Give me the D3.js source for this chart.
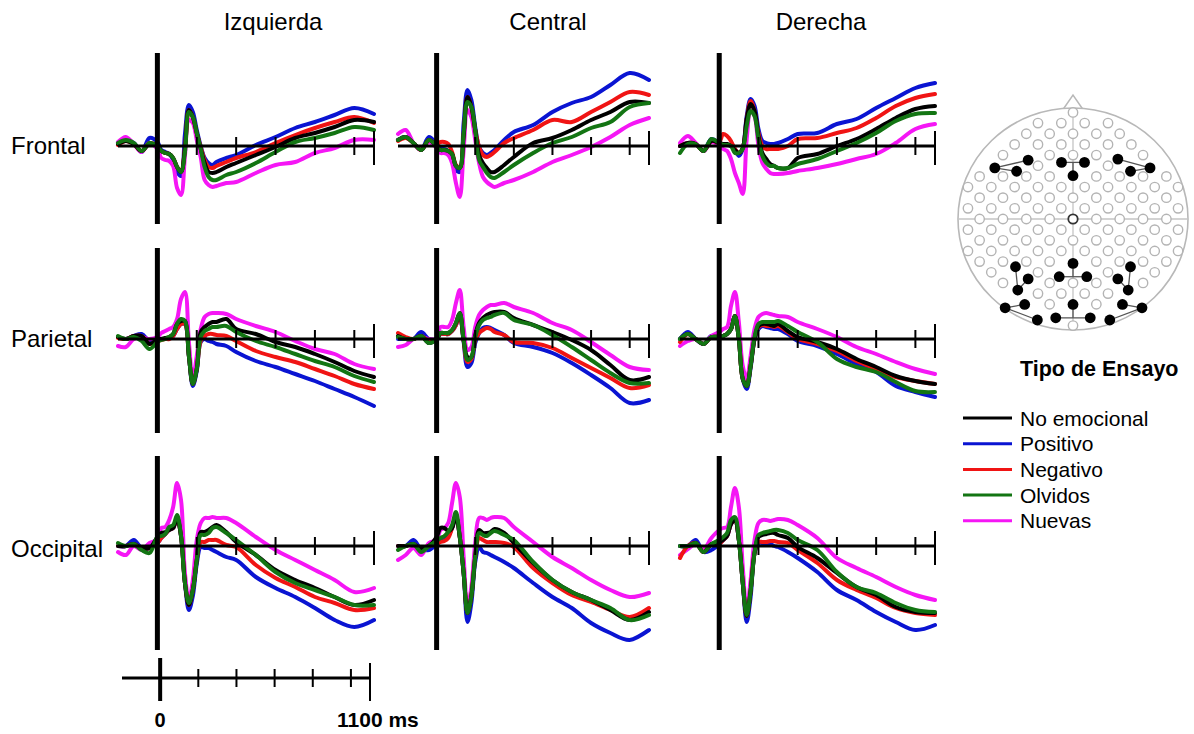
<!DOCTYPE html>
<html><head><meta charset="utf-8">
<script src="https://cdn.jsdelivr.net/npm/d3@7"></script>
<style>body{margin:0;background:#fff;} svg{display:block;font-family:"Liberation Sans",Arial,sans-serif;}</style>
</head><body><svg id="c" width="1194" height="734"></svg>
<script>
// time samples (ms)
const times = [-200,-160,-120,-80,-40,0,20,40,60,80,100,120,140,160,180,200,220,240,260,280,300,350,400,500,600,700,800,900,1000,1100];
const columns = ["Izquierda","Central","Derecha"];
const rowLabels = ["Frontal","Parietal","Occipital"];
const seriesNames = ["No emocional","Positivo","Negativo","Olvidos","Nuevas"];
const seriesColors = ["#000000","#0a14d2","#f01414","#137513","#f516f5"];
const tickTimes = [200,400,600,800,1000];
const scaleLabels = ["0","1100 ms"];
const legendTitle = "Tipo de Ensayo";

// amplitude (arbitrary µV units), series order: No emocional, Positivo, Negativo, Olvidos, Nuevas
const frontalIzq = [
 [0.2,0.5,0.2,-0.5,0.2, 0,-0.5,-0.7,-0.8,-1.2, -2.1,-2.6,-0.3,3.6,2.9, 1.3,-0.3,-1.7,-2.6,-2.7, -2.6,-2.1,-1.7,-0.9,-0.1, 0.8,1.3,1.9,2.6,2.4],
 [0.3,0.6,0.3,-0.6,0.8, 0.4,-0.4,-0.6,-0.8,-1.4, -2.6,-3.0,1.2,4.1,3.4, 1.6,0,-1.2,-1.7,-1.9, -1.6,-1.2,-0.9,0.1,0.9, 1.8,2.4,3.1,3.8,3.2],
 [0.1,0.5,0.2,-0.5,0.3, 0,-0.5,-0.7,-0.8,-1.2, -2.1,-2.5,-0.2,3.6,2.9, 1.3,-0.1,-1.4,-2.1,-2.2, -2.0,-1.6,-1.2,-0.6,0.3, 1.1,1.8,2.4,2.9,2.3],
 [0.3,0.6,0.3,-0.5,0.3, 0,-0.5,-0.7,-0.8,-1.2, -2.1,-2.6,-0.6,3.4,2.9, 1.3,-0.3,-2.1,-3.1,-3.4, -3.4,-2.9,-2.6,-1.7,-0.6, 0.4,0.8,1.3,1.9,1.6],
 [0.4,0.9,0.2,-0.6,0.3, -0.3,-1.2,-1.4,-1.5,-2.0, -4.2,-4.9,-1.0,2.6,2.3, 0.6,-1.1,-3.4,-3.9,-4.1, -4.0,-3.7,-3.6,-2.7,-1.9, -1.6,-0.7,-0.2,0.6,0.6]
];
const frontalCen = [
 [0.6,0.9,0.3,-0.4,0.6, 0,-0.4,-0.4,-0.5,-0.8, -2.0,-2.2,1.0,4.9,3.9, 1.6,-0.9,-1.7,-2.2,-2.6, -2.6,-1.9,-1.1,0.3,0.8, 1.6,2.6,3.4,4.4,4.3],
 [0.6,0.9,0.3,-0.4,0.9, 0.2,-0.2,-0.3,-0.5,-1.1, -2.4,-2.6,2.3,5.6,4.6, 1.9,-0.1,-0.7,-0.9,-0.7, -0.4,0.6,1.4,2.1,3.4, 4.3,4.9,6.1,7.3,6.6],
 [0.5,0.8,0.3,-0.4,0.6, 0.2,0.4,0.4,0.2,-0.6, -1.9,-2.2,1.2,4.9,3.9, 1.6,-0.1,-0.9,-1.1,-0.9, -0.6,0.3,0.8,1.6,2.6, 2.4,3.4,4.4,5.4,5.1],
 [0.6,0.9,0.3,-0.4,0.6, 0,-0.4,-0.4,-0.5,-0.8, -2.0,-2.2,1.3,4.4,3.9, 1.6,-1.4,-2.1,-2.7,-3.1, -3.2,-2.6,-1.9,-0.7,0.3, 0.9,1.8,2.4,3.9,4.3],
 [1.2,1.6,0.3,-0.4,0.4, -0.2,-0.7,-0.7,-0.9,-1.7, -3.7,-5.1,-0.4,3.6,2.9, 0.6,-1.7,-3.1,-3.6,-3.9, -4.1,-3.7,-3.4,-2.6,-1.6, -0.9,-0.1,0.9,2.1,2.8]
];
const frontalDer = [
 [0,0.3,0.2,-0.5,0.5, 0.3,0.2,0.2,0,-0.4, -0.7,-0.2,2.7,4.2,3.5, 1.0,-0.7,-1.3,-1.8,-2.0, -2.2,-2.2,-1.2,-0.8,0, 0.7,1.7,2.8,3.7,4.0],
 [0,0.3,0.2,-0.5,0.7, 0.3,0.1,0.1,0,-0.3, -1.0,-0.3,3.0,4.7,4.0, 1.7,0.5,0.3,0.2,0.2, 0.3,0.7,1.2,1.3,2.2, 2.7,3.8,4.8,5.8,6.3],
 [0,0.3,0.2,-0.5,0.5, 0.4,1.2,1.0,0.5,-0.3, -0.7,-0.2,2.7,4.5,3.5, 1.3,0,-0.3,-0.3,-0.3, -0.3,0,0.7,0.8,1.3, 1.8,2.8,4.0,4.8,5.2],
 [-0.7,0.2,0.2,-0.5,0.7, 0.3,0.1,0.1,0,-0.7, -0.7,-0.3,2.0,3.5,3.0, 0.7,-1.0,-1.7,-2.0,-2.0, -2.2,-2.2,-1.8,-1.3,-0.5, 0.3,1.3,2.5,3.2,3.3],
 [0.3,1.0,0.3,-0.5,0.4, 0.1,-0.3,-0.5,-1.3,-2.7, -3.7,-4.8,0.7,3.5,3.0, 0,-1.7,-2.3,-2.7,-2.8, -2.8,-2.7,-2.5,-2.2,-1.8, -1.3,-0.8,0.3,1.7,2.2]
];
const parietalIzq = [
 [0.2,0,0.3,0.3,-0.5, -0.1,0,0.1,0.2,0.5, 1.5,1.8,1.8,-1.7,-4.5, -3.0,0.7,1.2,1.5,1.7, 1.7,2.0,1.0,0.5,-0.3, -0.8,-1.5,-2.3,-3.2,-3.8],
 [0.2,0,0.3,0.5,-0.2, 0,0,0,0.1,0.3, 1.0,1.5,1.5,-1.7,-4.7, -3.2,-0.3,0,-0.2,-0.3, -0.5,-0.7,-1.3,-2.2,-2.8, -3.5,-4.2,-5.0,-5.8,-6.7],
 [0.1,0,0.3,0.3,-0.5, -0.2,-0.1,0,0,0.3, 1.0,1.5,1.5,-1.7,-4.5, -3.0,-0.2,0.3,0.5,0.5, 0.4,0.3,-0.2,-1.2,-1.8, -2.3,-3.0,-3.7,-4.5,-5.0],
 [0.3,0,0.2,-0.2,-1.0, -0.3,-0.1,0,0.2,0.5, 1.5,2.0,1.8,-1.7,-4.5, -3.0,0.2,0.8,1.0,1.2, 1.2,1.3,0.7,-0.2,-0.8, -1.5,-2.2,-2.8,-3.7,-4.3],
 [-0.7,-0.8,0,0.2,0, 0.2,0.6,0.8,1.0,1.2, 2.0,4.0,4.7,-0.3,-4.0, -1.7,1.0,2.2,2.5,2.6, 2.6,2.5,2.0,1.3,0.7, -0.2,-1.0,-1.5,-2.5,-3.0]
];
const parietalCen = [
 [0.3,0,0,0.3,-0.4, 0,0.6,0.6,0.6,0.9, 1.6,2.6,-0.1,-1.8,-1.8, 0.4,1.6,2.1,2.4,2.6, 2.7,2.7,2.1,1.4,0.7, -0.1,-1.1,-2.6,-4.1,-3.8],
 [0,0,0,0.7,0, 0,0.5,0.5,0.5,0.8, 1.4,2.4,-0.3,-2.8,-2.4, -0.4,0.6,1.1,1.2,1.1, 0.9,0.4,-0.4,-0.8,-1.4, -2.4,-3.6,-4.9,-6.4,-6.1],
 [0.6,0.2,0,0.3,-0.2, 0,0.5,0.5,0.5,0.8, 1.4,2.4,-0.2,-2.3,-2.0, -0.1,0.6,0.9,1.1,1.0, 0.7,0.4,-0.3,-0.4,-0.9, -1.9,-2.9,-3.9,-4.9,-4.6],
 [0.2,0,0,0.3,-0.4, 0,0.6,0.6,0.6,0.9, 1.6,2.6,-0.1,-2.1,-1.8, 0.2,1.4,1.9,2.1,2.2, 2.4,2.6,1.9,1.4,0.4, -0.8,-2.1,-3.4,-4.4,-4.4],
 [-0.8,-0.6,0,0.2,0, 0,1.2,1.2,1.2,1.9, 3.6,4.9,1.2,-1.1,-0.8, 1.2,2.4,2.9,3.2,3.4, 3.4,3.6,3.2,2.6,1.6, 0.9,-0.3,-1.6,-2.8,-3.1]
];
const parietalDer = [
 [0,0.5,0,-0.5,0.2, 0.2,0.3,0.5,1.0,2.3, 0,-4.0,-4.7,-2.7,0, 1.3,1.5,1.5,1.4,1.3, 1.5,0.8,0.2,-0.3,-1.0, -2.0,-2.8,-3.7,-4.2,-4.5],
 [0,0.7,0,-0.5,0.3, 0.2,0.3,0.5,1.0,2.3, 0,-4.0,-5.0,-2.9,0, 1.0,1.3,1.2,1.1,1.0, 1.0,0.5,-0.2,-0.7,-1.5, -2.5,-3.3,-4.7,-5.3,-5.8],
 [-0.3,0.5,0,-0.5,0.2, 0.2,0.3,0.5,1.0,2.3, 0,-4.0,-4.7,-2.7,0, 1.2,1.4,1.3,1.3,1.2, 1.3,0.7,0,-0.5,-1.2, -2.2,-3.0,-3.8,-4.2,-4.5],
 [0,0.5,0,-0.5,0.2, 0.2,0.3,0.5,1.0,2.3, 0,-4.0,-4.7,-2.7,0.2, 1.5,1.7,1.7,1.7,1.7, 1.8,1.3,0.7,-0.3,-2.0, -2.8,-3.3,-4.3,-5.2,-5.3],
 [-0.7,-0.2,0,-0.5,0.3, 0.7,1.0,1.2,3.3,4.7, 1.7,-2.7,-4.0,-1.7,1.0, 2.2,2.5,2.6,2.5,2.4, 2.3,2.2,1.7,1.0,0.2, -0.8,-1.5,-2.3,-3.0,-3.5]
];
const occipitalIzq = [
 [0,0,0.2,-0.2,-0.2, 0.9,1.3,1.4,1.6,1.8, 2.8,1.0,-3.7,-5.9,-4.4, -1.4,1.4,1.4,1.6,1.9, 2.1,1.4,0.4,-0.9,-2.4, -3.4,-4.2,-5.1,-5.9,-5.4],
 [0,0,0.6,-0.2,-0.2, 0.3,0.8,1.2,1.6,1.8, 2.8,1.0,-3.7,-6.4,-5.0, -1.8,-0.1,-0.2,-0.2,-0.4, -0.6,-1.1,-1.4,-3.1,-4.2, -5.1,-6.2,-7.4,-8.1,-7.4],
 [0,0,0.2,-0.2,-0.2, 0.3,0.8,1.2,1.6,1.8, 2.8,1.0,-3.7,-5.9,-4.4, -1.4,0.4,0.4,0.6,0.6, 0.6,0.1,-0.1,-1.9,-3.2, -4.1,-5.1,-5.7,-6.4,-6.2],
 [0.3,0,0.2,-0.4,-0.7, 0.9,1.0,1.2,1.9,2.1, 3.1,1.0,-3.7,-5.7,-4.4, -1.4,1.1,1.1,1.3,1.8, 1.9,1.3,0.6,-0.9,-2.6, -3.7,-4.4,-5.1,-5.9,-5.9],
 [-0.6,-0.9,0,-0.4,0.3, 0.6,1.8,1.9,2.6,3.9, 6.3,4.6,-2.7,-5.4,-3.4, 0.6,2.3,2.8,2.8,2.9, 2.8,2.8,2.3,0.9,-0.4, -1.4,-2.4,-3.4,-4.6,-4.2]
];
const occipitalCen = [
 [0,0,0.2,-0.3,0, 0.9,1.8,1.8,1.5,1.8, 3.0,0.9,-2.7,-6.7,-5.0, -1.1,1.6,1.3,1.3,1.4, 1.7,1.3,0.3,-1.7,-3.4, -4.6,-5.4,-6.4,-7.4,-6.6],
 [0,0,0.6,-0.3,-0.4, 0.2,0.5,0.6,1.0,1.8, 3.0,0.9,-2.7,-7.6,-5.7, -1.6,-0.1,-0.6,-0.7,-0.9, -1.1,-1.6,-2.2,-3.7,-5.1, -6.2,-7.7,-8.7,-9.4,-8.4],
 [0,0,0.2,-0.3,0, 0.2,0.4,0.5,0.8,1.8, 3.0,0.9,-2.7,-6.7,-5.0, -1.1,0.8,0.6,0.4,0.4, 0.4,0.3,-0.1,-2.2,-3.7, -4.9,-5.6,-6.4,-7.1,-6.2],
 [-0.4,0,0.2,-0.6,0, 0.5,0.8,1.0,1.4,2.1, 3.4,0.9,-2.7,-6.7,-5.0, -1.1,1.3,1.1,1.0,1.3, 1.5,1.1,0.6,-1.6,-3.4, -4.6,-5.4,-6.2,-7.4,-6.9],
 [-1.4,-0.9,-0.2,-0.9,0.3, 0.6,1.6,1.8,2.3,4.3, 6.3,4.9,-1.1,-6.1,-4.1, 0.3,2.8,2.8,2.6,2.8, 2.9,2.8,1.9,0.4,-1.1, -2.2,-3.4,-4.4,-5.1,-4.7]
];
const occipitalDer = [
 [0,0,0.3,-0.6,0.2, 0.4,0.6,1.0,2.2,2.6, 0.6,-3.7,-7.0,-4.5,-0.7, 0.9,1.1,1.2,1.3,1.3, 1.1,0.8,-0.1,-1.2,-2.7, -4.1,-4.9,-6.1,-6.6,-6.7],
 [0,0,0.6,-0.6,-0.4, 0.2,0.6,1.0,2.2,2.6, 0.6,-3.7,-7.6,-5.1,-0.7, 0.3,0.3,0.3,0.2,0, -0.1,-0.6,-1.2,-2.6,-4.4, -5.4,-6.6,-7.6,-8.4,-7.9],
 [-1.2,0,0.3,-0.6,0.2, 0.2,0.6,1.0,2.2,2.6, 0.6,-3.7,-7.0,-4.5,-0.7, 0.4,0.4,0.4,0.5,0.5, 0.4,0.3,-0.4,-1.7,-3.4, -4.4,-5.2,-6.2,-6.7,-6.9],
 [0,0,0.3,-0.6,0.2, 0.6,0.9,1.3,2.6,2.9, 0.6,-3.7,-6.9,-4.5,-0.7, 1.1,1.3,1.4,1.5,1.6, 1.6,1.3,0.6,-0.4,-2.6, -4.1,-4.7,-5.7,-6.4,-6.6],
 [-0.9,-0.3,0.2,-0.3,0.8, 1.6,1.8,1.9,3.9,5.8, 3.9,-2.1,-6.4,-3.4,0.6, 2.3,2.6,2.6,2.5,2.6, 2.7,2.6,2.1,0.8,-1.2, -2.2,-3.1,-4.1,-4.9,-5.4]
];

// electrode map: highlighted electrodes (normalized head coords) and their links
const activeElectrodes = [
 [-0.68,0.46],[-0.49,0.43],[-0.39,0.53],
 [-0.10,0.51],[0.10,0.51],[0,0.39],
 [0.39,0.54],[0.50,0.43],[0.67,0.46],
 [-0.50,-0.43],[-0.39,-0.54],[-0.48,-0.64],
 [-0.59,-0.80],[-0.42,-0.77],[-0.31,-0.91],
 [0,-0.40],[-0.12,-0.52],[0.12,-0.52],
 [0,-0.77],[-0.15,-0.89],[0.15,-0.89],
 [0.50,-0.43],[0.39,-0.54],[0.48,-0.64],
 [0.43,-0.77],[0.60,-0.80],[0.32,-0.91]
];
const electrodeLinks = [
 [-0.68,0.46,-0.39,0.53],[-0.68,0.46,-0.49,0.43],
 [-0.10,0.51,0.10,0.51],[0,0.51,0,0.39],
 [0.67,0.46,0.39,0.54],[0.67,0.46,0.50,0.43],
 [-0.50,-0.43,-0.48,-0.64],[-0.39,-0.54,-0.48,-0.64],
 [-0.59,-0.80,-0.42,-0.77],[-0.59,-0.80,-0.31,-0.91],
 [-0.12,-0.52,0.12,-0.52],[0,-0.40,0,-0.52],
 [-0.15,-0.89,0.15,-0.89],[0,-0.77,0,-0.89],
 [0.50,-0.43,0.48,-0.64],[0.39,-0.54,0.48,-0.64],
 [0.60,-0.80,0.43,-0.77],[0.60,-0.80,0.32,-0.91]
];

const svg = d3.select("#c");
const colRanges = [[118,374],[398,649],[680,935]];
const rowZero = [146,339,546];
const rowVert = [[9.3,-7.8],[9.1,-9.4],[9.0,-10.4]];
const panels = [[frontalIzq,frontalCen,frontalDer],[parietalIzq,parietalCen,parietalDer],[occipitalIzq,occipitalCen,occipitalDer]];
const drawOrder = [1,4,2,0,3];

panels.forEach((row,r)=>row.forEach((pd,c)=>{
  const x = d3.scaleLinear().domain([-200,1100]).range(colRanges[c]);
  const y = d3.scaleLinear().domain([-10,10]).range([rowZero[r]+100,rowZero[r]-100]);
  const g = svg.append("g");
  const line = d3.line().x((d,i)=>x(times[i])).y(d=>y(d)).curve(d3.curveCatmullRom.alpha(0.5));
  drawOrder.forEach(s=>{
    g.append("path").attr("d",line(pd[s])).attr("fill","none")
     .attr("stroke",seriesColors[s]).attr("stroke-width",4)
     .attr("stroke-linejoin","round").attr("stroke-linecap","round");
  });
  const y0 = y(0);
  g.append("line").attr("x1",x(-200)).attr("x2",x(1100)).attr("y1",y0).attr("y2",y0)
   .attr("stroke","#000").attr("stroke-width",3);
  tickTimes.forEach(t=>{
    g.append("line").attr("x1",x(t)).attr("x2",x(t)).attr("y1",y0-9).attr("y2",y0+9)
     .attr("stroke","#000").attr("stroke-width",2);
  });
  g.append("line").attr("x1",x(1100)).attr("x2",x(1100)).attr("y1",y0-15).attr("y2",y0+19)
   .attr("stroke","#000").attr("stroke-width",2);
  g.append("line").attr("x1",x(0)).attr("x2",x(0)).attr("y1",y(rowVert[r][0])).attr("y2",y(rowVert[r][1]))
   .attr("stroke","#000").attr("stroke-width",5);
}));

// column titles and row labels
const titleX = [273,548,821];
columns.forEach((t,i)=>svg.append("text").attr("x",titleX[i]).attr("y",30).attr("text-anchor","middle")
  .attr("font-size",24).attr("fill","#000").text(t));
const labelY = [154,347,557];
rowLabels.forEach((t,i)=>svg.append("text").attr("x",11).attr("y",labelY[i])
  .attr("font-size",24).attr("fill","#000").text(t));

// time scale bar
const xs = d3.scaleLinear().domain([-200,1100]).range([122,370]);
const sb = svg.append("g");
const yb = 678;
sb.append("line").attr("x1",xs(-200)).attr("x2",xs(1100)).attr("y1",yb).attr("y2",yb).attr("stroke","#000").attr("stroke-width",3);
sb.append("line").attr("x1",xs(0)).attr("x2",xs(0)).attr("y1",658).attr("y2",701).attr("stroke","#000").attr("stroke-width",4);
tickTimes.forEach(t=>sb.append("line").attr("x1",xs(t)).attr("x2",xs(t)).attr("y1",yb-9).attr("y2",yb+9).attr("stroke","#000").attr("stroke-width",2));
sb.append("line").attr("x1",xs(1100)).attr("x2",xs(1100)).attr("y1",663).attr("y2",701).attr("stroke","#000").attr("stroke-width",2);
sb.append("text").attr("x",xs(0)).attr("y",727).attr("text-anchor","middle").attr("font-size",20).attr("font-weight","bold").text(scaleLabels[0]);
sb.append("text").attr("x",337).attr("y",727).attr("font-size",21).attr("font-weight","bold").text(scaleLabels[1]);

// head map
const headCx=1073, headCy=219, headRx=115, headRy=111;
const hx = d3.scaleLinear().domain([-1,1]).range([headCx-headRx, headCx+headRx]);
const hy = d3.scaleLinear().domain([-1,1]).range([headCy+headRy, headCy-headRy]);
const hg = svg.append("g");
hg.append("path").attr("d",`M${hx(-0.09)},${hy(1)+2}L${hx(0)},${hy(1)-13}L${hx(0.09)},${hy(1)+2}`)
  .attr("fill","#fff").attr("stroke","#b8b8b8").attr("stroke-width",1.5);
hg.append("ellipse").attr("cx",hx(0)).attr("cy",hy(0)).attr("rx",headRx).attr("ry",headRy)
  .attr("fill","#fff").attr("stroke","#b8b8b8").attr("stroke-width",1.6);
hg.append("line").attr("x1",hx(0)).attr("x2",hx(0)).attr("y1",hy(1)-1).attr("y2",hy(-1)).attr("stroke","#c4c4c4").attr("stroke-width",1.3);
hg.append("line").attr("x1",hx(-1)).attr("x2",hx(1)).attr("y1",hy(0)).attr("y2",hy(0)).attr("stroke","#c4c4c4").attr("stroke-width",1.3);
const grid = [];
d3.range(-10,11).forEach(k=>{
  const yn = k*0.096;
  const off = Math.abs(k)%2 ? 0.1015 : 0;
  d3.range(-5,6).forEach(j=>{
    const xn = off + j*0.203;
    if (xn*xn+yn*yn <= 0.94 && !activeElectrodes.some(a=>Math.hypot(a[0]-xn,a[1]-yn)<0.09)) grid.push([xn,yn]);
  });
});
hg.selectAll("circle.e").data(grid).join("circle").attr("class","e")
  .attr("cx",d=>hx(d[0])).attr("cy",d=>hy(d[1])).attr("r",4.7)
  .attr("fill","#fff").attr("stroke",d=>(d[0]===0&&d[1]===0)?"#333":"#b4b4b4").attr("stroke-width",d=>(d[0]===0&&d[1]===0)?1.8:1.4);
hg.selectAll("line.l").data(electrodeLinks).join("line").attr("class","l")
  .attr("x1",d=>hx(d[0])).attr("y1",d=>hy(d[1])).attr("x2",d=>hx(d[2])).attr("y2",d=>hy(d[3]))
  .attr("stroke","#555").attr("stroke-width",1.3);
hg.selectAll("circle.a").data(activeElectrodes).join("circle").attr("class","a")
  .attr("cx",d=>hx(d[0])).attr("cy",d=>hy(d[1])).attr("r",5.4).attr("fill","#000");

// legend
const lg = svg.append("g");
lg.append("text").attr("x",1020).attr("y",376).attr("font-size",21.5).attr("font-weight","bold").text(legendTitle);
seriesNames.forEach((n,i)=>{
  const cy = 418 + i*25.7;
  lg.append("line").attr("x1",963).attr("x2",1012).attr("y1",cy).attr("y2",cy).attr("stroke",seriesColors[i]).attr("stroke-width",3);
  lg.append("text").attr("x",1020).attr("y",cy+7.5).attr("font-size",21).text(n);
});
</script>
</body></html>
